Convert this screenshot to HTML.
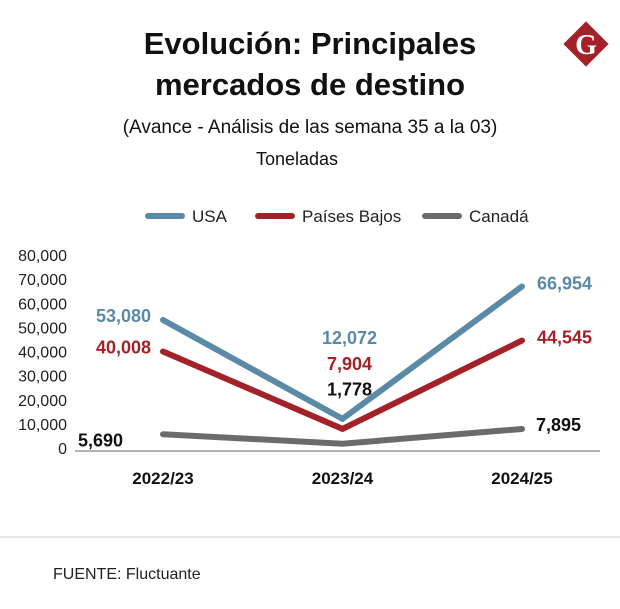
<!DOCTYPE html>
<html><head><meta charset="utf-8"><style>
body{margin:0;background:#fff;font-family:"Liberation Sans",sans-serif;}
#wrap{position:relative;width:620px;height:609px;overflow:hidden;}
</style></head><body>
<div id="wrap">
<svg width="620" height="609" id="svg">
<text x="310" y="54" text-anchor="middle" font-size="31" font-weight="bold" fill="#111">Evolución: Principales</text>
<text x="310" y="95" text-anchor="middle" font-size="31" font-weight="bold" fill="#111">mercados de destino</text>
<text x="310" y="133" text-anchor="middle" font-size="19" fill="#111">(Avance - Análisis de las semana 35 a la 03)</text>
<text x="297" y="165" text-anchor="middle" font-size="18" fill="#111">Toneladas</text>
<g>
<rect x="570" y="28" width="32" height="32" fill="#a3222a" transform="rotate(45 586 44)"/>
<text x="586" y="54" text-anchor="middle" font-family="Liberation Serif,serif" font-weight="bold" font-size="28" fill="#fff">G</text>
</g>
<g id="legend"></g>
<g id="axis"></g>
<g id="plot"></g>
<line x1="0" y1="537" x2="620" y2="537" stroke="#ccc" stroke-width="1"/>
<text x="53" y="579" font-size="16" fill="#222">FUENTE: Fluctuante</text>
</svg>
</div>
<script>
const categories=["2022/23","2023/24","2024/25"];
const seriesNames=["USA","Países Bajos","Canadá"];
const usa=[53080,12072,66954];
const paises=[40008,7904,44545];
const canada=[5690,1778,7895];
const ticks=[0,10000,20000,30000,40000,50000,60000,70000,80000];
const NS="http://www.w3.org/2000/svg";
const svg=document.getElementById('svg');
const colors=["#5a8aa6","#a3222a","#6b6b6b"];
const labelColors=["#5a8aa6","#a3222a","#111"];
const xs=[163,343,522];
function X(i){return xs[0]+(xs[2]-xs[0])*i/(categories.length-1);}
function Y(v){return 448-v*(448-255)/80000;}
function mk(t,a,p){const e=document.createElementNS(NS,t);for(const k in a)e.setAttribute(k,a[k]);(p||svg).appendChild(e);return e;}
const axis=document.getElementById('axis'),plot=document.getElementById('plot'),legend=document.getElementById('legend');
ticks.forEach(v=>{const t=mk('text',{x:67,y:Y(v)+6,'text-anchor':'end','font-size':16,fill:'#222'},axis);t.textContent=v.toLocaleString('en-US');

});
const al=mk('line',{x1:75,y1:451,x2:600,y2:451,stroke:'#999','stroke-width':1.5},axis);


categories.forEach((c,i)=>{const t=mk('text',{x:X(i),y:484,'text-anchor':'middle','font-size':17,'font-weight':'bold',fill:'#111'},axis);t.textContent=c;

});
const legX=[148,258,425];
seriesNames.forEach((n,s)=>{mk('line',{x1:legX[s],y1:216,x2:legX[s]+34,y2:216,stroke:colors[s],'stroke-width':6,'stroke-linecap':'round'},legend);
const t=mk('text',{x:legX[s]+44,y:222,'font-size':17,fill:'#222'},legend);t.textContent=n;

});
const data=[usa,paises,canada];
const off=[[[-12,-4],[7,-81],[15,-3]],[[-12,-4],[7,-65],[15,-3]],[[-40,6],[7,-54],[14,-4]]];
const anchors=['end','middle','start'];
data.forEach((arr,s)=>{const pts=arr.map((v,i)=>X(i)+','+Y(v)).join(' ');
const pl=mk('polyline',{points:pts,fill:'none',stroke:colors[s],'stroke-width':6,'stroke-linecap':'round','stroke-linejoin':'miter'},plot);


arr.forEach((v,i)=>{const o=off[s][i];
const t=mk('text',{x:X(i)+o[0],y:Y(v)+o[1]+6,'text-anchor':anchors[i],'font-size':18,'font-weight':'bold',fill:labelColors[s]},plot);
t.textContent=v.toLocaleString('en-US');

});});
</script>
</body></html>
